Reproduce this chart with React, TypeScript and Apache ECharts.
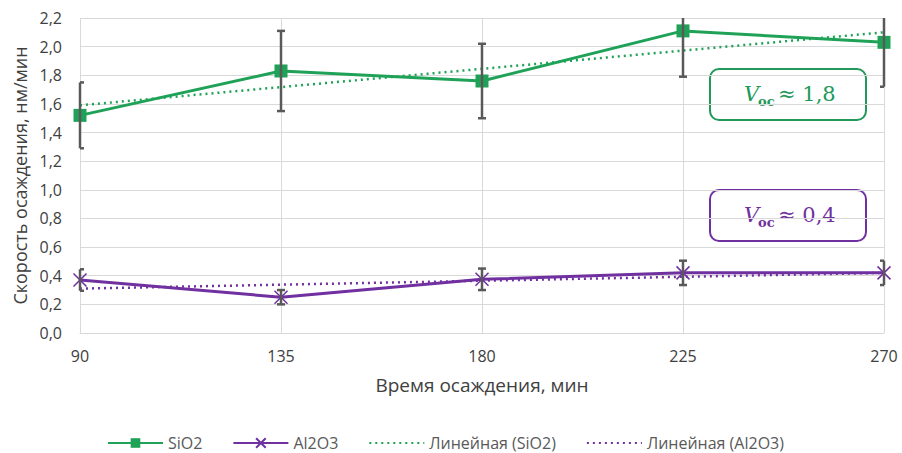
import React, { useEffect, useRef } from "react";
import * as echarts from "echarts";

const times = [90, 135, 180, 225, 270];
const sio2 = [1.52, 1.83, 1.76, 2.11, 2.03];
const sio2Err = [0.23, 0.28, 0.26, 0.32, 0.31];
const al2o3 = [0.37, 0.25, 0.375, 0.42, 0.42];
const al2o3Err = [0.075, 0.05, 0.075, 0.085, 0.085];
const trendX = [90, 270];
const sio2Trend = [1.59, 2.1];
const al2o3Trend = [0.31, 0.42];
const seriesNames = ["SiO2", "Al2O3", "Линейная (SiO2)", "Линейная (Al2O3)"];
const xTitle = "Время осаждения, мин";
const yTitle = "Скорость осаждения, нм/мин";

const GREEN = "#1FA257";
const PURPLE = "#7030A0";
const ERR = "#595959";
const FONT = "'Open Sans', 'Noto Sans', sans-serif";

function errData(vals: number[], errs: number[]) {
  return times.map((t, i) => [t, vals[i] - errs[i], vals[i] + errs[i]]);
}

function renderErr(params: any, api: any) {
  const x = api.value(0);
  const lo = api.coord([x, api.value(1)]);
  const hi = api.coord([x, api.value(2)]);
  const cs = params.coordSys;
  const top = cs.y;
  const left = cs.x;
  const right = cs.x + cs.width;
  const px = lo[0];
  const half = 4;
  const cx0 = Math.max(px - half, left);
  const cx1 = Math.min(px + half, right);
  const yHi = Math.max(hi[1], top);
  const style = { stroke: ERR, lineWidth: 2.5 };
  const children: any[] = [
    { type: "line", shape: { x1: px, y1: yHi, x2: px, y2: lo[1] }, style },
    { type: "line", shape: { x1: cx0, y1: lo[1], x2: cx1, y2: lo[1] }, style },
  ];
  if (hi[1] >= top) {
    children.push({ type: "line", shape: { x1: cx0, y1: hi[1], x2: cx1, y2: hi[1] }, style });
  }
  return { type: "group", children };
}

function labelBox(x: number, y: number, color: string, value: string) {
  const serif = "'DejaVu Serif', 'Liberation Serif', serif";
  return {
    type: "group",
    left: x,
    top: y,
    children: [
      {
        type: "rect",
        shape: { x: 0, y: 0, width: 156, height: 51, r: 9 },
        style: { fill: "#fff", stroke: color, lineWidth: 2 },
      },
      {
        type: "text",
        x: 34,
        y: 25,
        style: { text: "V", fill: color, font: "italic 21px " + serif, verticalAlign: "middle" },
      },
      {
        type: "text",
        x: 48,
        y: 32,
        style: { text: "ос", fill: color, font: "bold 13px " + serif, verticalAlign: "middle" },
      },
      {
        type: "text",
        x: 68,
        y: 25,
        style: { text: "≈ " + value, fill: color, font: "21px " + serif, verticalAlign: "middle" },
      },
    ],
  };
}

export default function App() {
  const ref = useRef<HTMLDivElement>(null);
  useEffect(() => {
    if (!ref.current) return;
    const chart = echarts.init(ref.current, null, { renderer: "svg" });
    const hidden = { color: "transparent", borderColor: "transparent", borderWidth: 0 };
    chart.setOption({
      animation: false,
      backgroundColor: "#fff",
      grid: { left: 80, right: 18, top: 18, bottom: 120 },
      xAxis: {
        type: "value",
        min: 90,
        max: 270,
        interval: 45,
        name: xTitle,
        nameLocation: "middle",
        nameGap: 42,
        nameTextStyle: { fontFamily: FONT, fontSize: 19, color: "#404040" },
        axisLine: { show: true, lineStyle: { color: "#d9d9d9" } },
        axisTick: { show: false },
        axisLabel: { fontFamily: FONT, fontSize: 16, color: "#404040", margin: 15 },
        splitLine: { show: true, lineStyle: { color: "#d9d9d9" } },
      },
      yAxis: {
        type: "value",
        min: 0,
        max: 2.2,
        interval: 0.2,
        name: yTitle,
        nameLocation: "middle",
        nameGap: 50,
        nameTextStyle: { fontFamily: FONT, fontSize: 18, color: "#404040" },
        axisLine: { show: false },
        axisTick: { show: false },
        axisLabel: {
          fontFamily: FONT,
          fontSize: 16,
          color: "#404040",
          margin: 18,
          formatter: (v: number) => v.toFixed(1).replace(".", ","),
        },
        splitLine: { show: true, lineStyle: { color: "#d9d9d9" } },
      },
      legend: {
        top: 430,
        left: 102,
        itemWidth: 55,
        itemHeight: 12,
        itemGap: 30,
        textStyle: { fontFamily: FONT, fontSize: 16, color: "#595959" },
        data: [
          { name: seriesNames[0] },
          { name: seriesNames[1] },
          { name: seriesNames[2], itemStyle: hidden },
          { name: seriesNames[3], itemStyle: hidden },
        ],
      },
      series: [
        {
          name: seriesNames[2],
          type: "line",
          data: trendX.map((t, i) => [t, sio2Trend[i]]),
          symbol: "none",
          lineStyle: { color: GREEN, width: 2.5, type: [2, 4] },
          itemStyle: { color: GREEN },
          z: 2,
        },
        {
          name: seriesNames[3],
          type: "line",
          data: trendX.map((t, i) => [t, al2o3Trend[i]]),
          symbol: "none",
          lineStyle: { color: PURPLE, width: 2.5, type: [2, 4] },
          itemStyle: { color: PURPLE },
          z: 2,
        },
        {
          name: seriesNames[0],
          type: "line",
          data: times.map((t, i) => [t, sio2[i]]),
          symbol: "rect",
          symbolSize: 13,
          lineStyle: { color: GREEN, width: 3 },
          itemStyle: { color: GREEN },
          z: 3,
        },
        {
          name: seriesNames[1],
          type: "line",
          data: times.map((t, i) => [t, al2o3[i]]),
          symbol: "path://M0,0L10,10M10,0L0,10",
          symbolSize: 13,
          lineStyle: { color: PURPLE, width: 3 },
          itemStyle: { color: PURPLE, borderColor: PURPLE, borderWidth: 1.5 },
          z: 3,
        },
        {
          type: "custom",
          data: errData(sio2, sio2Err),
          renderItem: renderErr,
          z: 4,
        },
        {
          type: "custom",
          data: errData(al2o3, al2o3Err),
          renderItem: renderErr,
          z: 4,
        },
      ],
      graphic: [labelBox(709, 68, "#22995A", "1,8"), labelBox(709, 189, "#7030A0", "0,4")],
    });
    return () => chart.dispose();
  }, []);
  return (
    <div
      ref={ref}
      style={{ position: "absolute", left: 0, top: 0, width: 902, height: 453 }}
    />
  );
}
